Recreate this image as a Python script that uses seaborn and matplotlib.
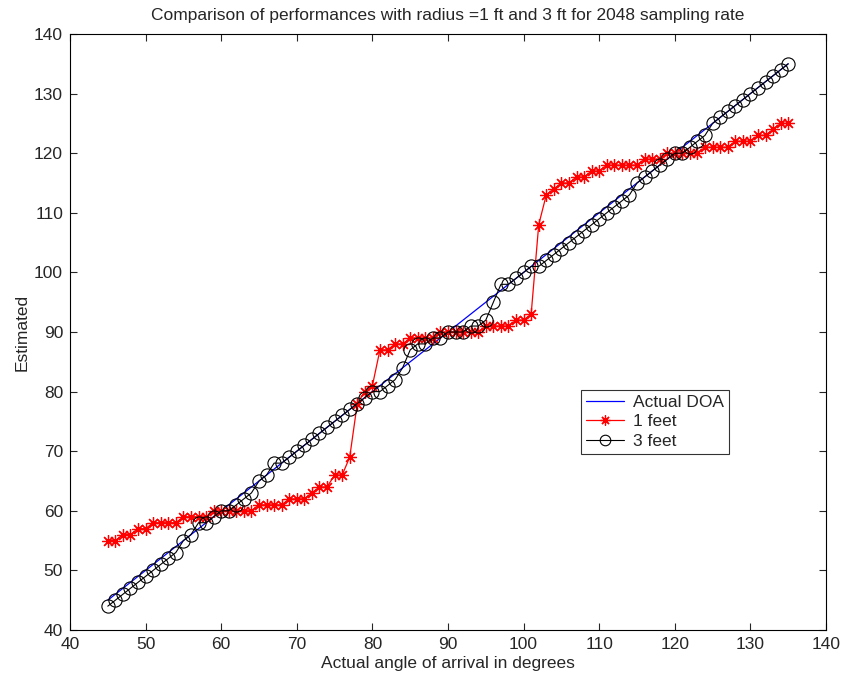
import matplotlib
matplotlib.use("Agg")
import matplotlib.pyplot as plt
import seaborn as sns
import pandas as pd

# Actual angle of arrival (degrees)
angles = list(range(45, 136))

# Estimated DOA with 1 ft radius
est_1ft = [55, 55, 56, 56, 57, 57, 58, 58, 58, 58,
           59, 59, 59, 59, 60, 60, 60, 60, 60, 60,
           61, 61, 61, 61, 62, 62, 62, 63, 64, 64,
           66, 66, 69, 78, 80, 81, 87, 87, 88, 88,
           89, 89, 89, 89, 90, 90, 90, 90, 90, 90,
           91, 91, 91, 91, 92, 92, 93, 108, 113, 114,
           115, 115, 116, 116, 117, 117, 118, 118, 118, 118,
           118, 119, 119, 119, 120, 120, 120, 120, 120, 121,
           121, 121, 121, 122, 122, 122, 123, 123, 124, 125, 125]

# Estimated DOA with 3 ft radius
est_3ft = [44, 45, 46, 47, 48, 49, 50, 51, 52, 53,
           55, 56, 58, 58, 59, 60, 60, 61, 62, 63,
           65, 66, 68, 68, 69, 70, 71, 72, 73, 74,
           75, 76, 77, 78, 79, 80, 80, 81, 82, 84,
           87, 88, 88, 89, 89, 90, 90, 90, 91, 91,
           92, 95, 98, 98, 99, 100, 101, 101, 102, 103,
           104, 105, 106, 107, 108, 109, 110, 111, 112, 113,
           115, 116, 117, 118, 119, 120, 120, 121, 122, 123,
           125, 126, 127, 128, 129, 130, 131, 132, 133, 134, 135]

x_ticks = [40, 50, 60, 70, 80, 90, 100, 110, 120, 130, 140]
y_ticks = [40, 50, 60, 70, 80, 90, 100, 110, 120, 130, 140]

df = pd.DataFrame({"angle": angles, "actual": angles,
                   "r1": est_1ft, "r3": est_3ft})

sns.set_style("ticks", {"xtick.direction": "in", "ytick.direction": "in"})
plt.rcParams["font.family"] = ["Liberation Sans", "DejaVu Sans"]
fs = 12.5

fig = plt.figure(figsize=(8.44, 6.77), dpi=100)
ax = fig.add_axes([70 / 844, 1 - 630 / 677, 756 / 844, 596 / 677])

sns.lineplot(data=df, x="angle", y="actual", ax=ax, color="#0000ff",
             linewidth=0.9, label="Actual DOA", sort=False, estimator=None)
sns.lineplot(data=df, x="angle", y="r1", ax=ax, color="#ff0000",
             linewidth=0.9, marker=(8, 2, 0), markersize=9,
             markeredgewidth=0.9, markeredgecolor="#ff0000",
             label="1 feet", sort=False, estimator=None)
sns.lineplot(data=df, x="angle", y="r3", ax=ax, color="black",
             linewidth=0.8, marker="o", markersize=9.5, markerfacecolor="none",
             markeredgewidth=0.8, markeredgecolor="black",
             label="3 feet", sort=False, estimator=None)

ax.set_xlim(40, 140)
ax.set_ylim(40, 140)
ax.set_xticks(x_ticks)
ax.set_yticks(y_ticks)
ax.tick_params(axis="both", which="both", direction="in", length=5,
               width=0.8, labelsize=fs, top=True, right=True, pad=5)
for side in ax.spines.values():
    side.set_visible(True)
    side.set_linewidth(0.8)
    side.set_color("black")

ax.set_xlabel("Actual angle of arrival in degrees", fontsize=fs, labelpad=3)
ax.set_ylabel("Estimated", fontsize=fs, labelpad=3)
ax.set_title("Comparison of performances with radius =1 ft and 3 ft for 2048 sampling rate",
             fontsize=fs, pad=10)

leg = ax.legend(loc="lower left", bbox_to_anchor=(0.676, 0.295), fontsize=fs,
                frameon=True, fancybox=False, shadow=False, borderpad=0.3,
                labelspacing=0.25, handlelength=2.2, handletextpad=0.5,
                borderaxespad=0, markerscale=0.8)
leg.get_frame().set_edgecolor("black")
leg.get_frame().set_linewidth(0.8)

fig.savefig("out.png", dpi=100, facecolor="white")
